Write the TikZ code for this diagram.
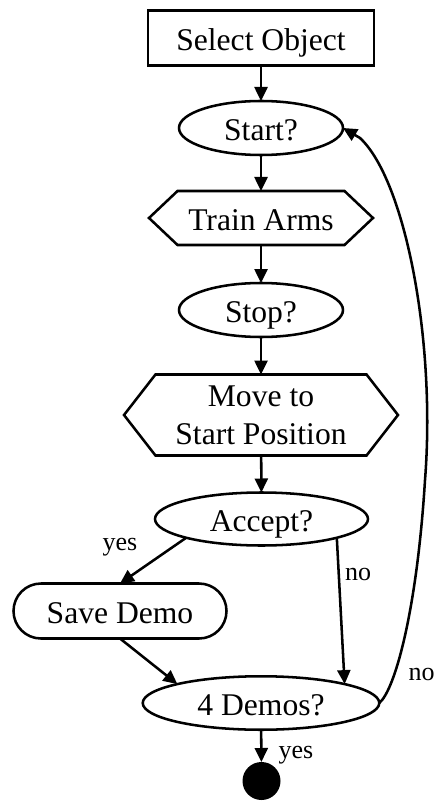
\documentclass[tikz,border=0pt]{standalone}
\usepackage{fontspec}
\setmainfont{Liberation Serif}
\usetikzlibrary{arrows.meta,shapes.geometric}

% outline of a flat-sided hexagon around a rectangular node
\newcommand\hexoutline[2]{%
  \draw (#1.west) -- ([xshift=#2]#1.north west) -- ([xshift=-#2]#1.north east)
        -- (#1.east) -- ([xshift=-#2]#1.south east) -- ([xshift=#2]#1.south west) -- cycle;}

\begin{document}
\begin{tikzpicture}[x=0.75pt,y=-0.75pt,
  line width=1.9pt,
  every node/.style={inner sep=0pt, outer sep=0pt},
  mainfont/.style={font=\fontsize{23.7pt}{28.5pt}\selectfont},
  txt/.style={mainfont, text height=20pt, text depth=1.25pt},
  boxnode/.style={txt, draw, rectangle},
  ovalnode/.style={txt, draw, ellipse},
  hexnode/.style={mainfont, rectangle, align=center},
  pillnode/.style={txt, draw, rectangle, rounded corners=20.6pt},
  lbl/.style={font=\fontsize{19.5pt}{23pt}\selectfont},
  flow/.style={-{Triangle[length=10.5pt,width=9.75pt]}},
  enddot/.style={circle, fill=black, minimum size=28.5pt}
]
\useasboundingbox (0,0) rectangle (434,802);

% process nodes
\node[boxnode, minimum width=169.5pt, minimum height=41.3pt] (select) at (261,38) {Select Object};
\node[ovalnode, minimum width=123pt, minimum height=40.5pt] (start) at (261,128) {Start?};
\node[hexnode, txt, minimum width=168pt, minimum height=40.5pt] (train) at (261,218) {Train Arms};
\hexoutline{train}{21.4pt}
\node[ovalnode, minimum width=123pt, minimum height=40.5pt] (stop) at (261,310) {Stop?};
\node[hexnode, minimum width=205.5pt, minimum height=60.75pt] (move) at (261,415) {Move to\\Start Position};
\hexoutline{move}{23.6pt}
\node[ovalnode, minimum width=159.75pt, minimum height=39.75pt] (accept) at (261.5,519) {Accept?};
\node[pillnode, minimum width=159.75pt, minimum height=41.25pt] (save) at (120,611) {Save Demo};
\node[ovalnode, minimum width=177.4pt, minimum height=40.1pt] (d4) at (261,703) {4 Demos?};
\node[enddot] (done) at (261.5,781) {};

% connectors
\draw[flow] (select) -- (start);
\draw[flow] (start) -- (train);
\draw[flow] (train) -- (stop);
\draw[flow] (stop) -- (move);
\draw[flow] (move) -- (accept);
\draw[flow] (accept.south west) -- (save.north);
\draw[flow] (accept.south east) -- (d4.north east);
\draw[flow] (save.south) -- (d4.north west);
\draw[flow] (d4) -- (done);
\draw[flow] (d4.east) .. controls (395,690) and (417,610) .. (425,480)
                      .. controls (436,340) and (405,180) .. (360,138) -- (start.east);

% edge labels
\node[lbl] (lyes1) at (120,547.5) {yes};
\node[lbl] (lno1) at (358,574.5) {no};
\node[lbl] (lno2) at (421.5,674.5) {no};
\node[lbl] (lyes2) at (296,755) {yes};
\end{tikzpicture}
\end{document}
